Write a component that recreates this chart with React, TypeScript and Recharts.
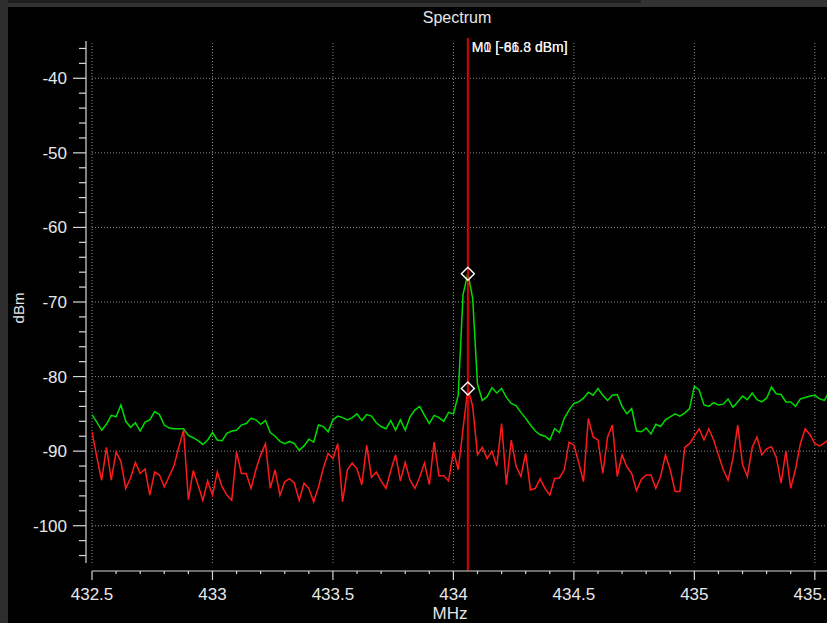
import React from 'react';
import {
  LineChart,
  Line,
  XAxis,
  YAxis,
  ReferenceLine,
  ReferenceDot,
} from 'recharts';

// spectrum bins: 432.5 MHz upward, 20 kHz per bin
const startMHz = 432.5;
const stepMHz = 0.02;

// max-hold trace (green), dBm
const maxHold = [
  -85.1, -86.1, -87.2, -86.4, -85.2, -85.4, -83.8, -86.0, -86.8, -86.2,
  -87.3, -86.1, -85.8, -84.7, -85.1, -86.5, -86.9, -87.0, -87.0, -87.0,
  -87.9, -88.2, -88.6, -89.1, -88.5, -87.5, -88.5, -88.6, -87.6, -87.3,
  -87.2, -86.5, -86.3, -85.6, -85.8, -86.4, -85.9, -87.5, -88.0, -88.7,
  -89.0, -88.7, -89.0, -89.9, -89.3, -88.4, -88.8, -86.5, -86.7, -87.4,
  -85.8, -85.3, -85.5, -85.8, -85.5, -85.0, -85.9, -85.1, -85.3, -86.2,
  -86.7, -87.0, -85.9, -87.2, -85.8, -87.2, -85.4, -84.5, -84.0, -85.2,
  -86.3, -85.2, -85.5, -86.0, -84.8, -85.0, -82.5, -69.0, -66.2, -69.5,
  -81.0, -83.2, -82.7, -81.5, -82.2, -81.6, -82.8, -83.6, -83.9, -84.8,
  -85.6, -86.5, -87.3, -87.8, -88.0, -88.5, -87.0, -87.5, -85.6, -84.5,
  -83.6, -83.4, -82.9, -82.1, -82.5, -81.6, -82.5, -83.2, -82.5, -82.4,
  -84.0, -85.0, -84.3, -87.3, -87.4, -86.9, -87.7, -86.4, -86.7, -85.8,
  -85.4, -85.0, -85.3, -84.9, -84.3, -81.3, -81.8, -83.8, -84.0, -83.5,
  -83.8, -83.7, -83.0, -84.1, -83.4, -82.6, -83.1, -82.2, -83.1, -83.4,
  -82.9, -81.4, -82.3, -82.4, -83.4, -83.4, -84.0, -83.0, -82.8, -82.6,
  -82.5, -83.0, -83.2, -82.0,
];

// live trace (red), dBm
const live = [
  -87.4, -90.8, -93.9, -89.5, -93.9, -90.1, -91.4, -95.0, -93.6, -91.5,
  -93.0, -92.4, -95.9, -92.8, -93.2, -94.8, -93.4, -92.0, -89.5, -87.2,
  -96.5, -92.6, -94.5, -96.6, -94.0, -95.9, -92.8, -94.8, -95.9, -96.6,
  -90.1, -93.0, -93.0, -95.0, -92.5, -90.5, -89.0, -95.0, -92.5, -95.9,
  -94.1, -93.7, -94.3, -96.6, -94.3, -95.0, -96.8, -94.8, -92.3, -90.3,
  -91.0, -89.0, -96.8, -92.5, -91.6, -92.4, -94.5, -89.2, -93.5, -92.8,
  -94.0, -95.0, -92.6, -90.5, -94.0, -91.5, -93.9, -95.0, -93.5, -91.6,
  -94.5, -88.8, -93.3, -93.3, -94.0, -90.0, -92.5, -87.0, -81.6, -84.0,
  -90.5, -89.5, -91.0, -90.0, -92.0, -86.3, -94.5, -88.5, -92.0, -93.4,
  -90.3, -95.2, -95.0, -93.7, -95.0, -95.9, -93.7, -93.6, -92.5, -88.8,
  -89.2, -91.5, -94.1, -85.6, -88.1, -88.5, -93.0, -88.1, -86.5, -93.4,
  -90.5, -92.1, -93.0, -95.3, -93.8, -93.2, -93.2, -95.0, -93.4, -90.5,
  -92.5, -95.4, -95.4, -89.5, -89.0, -88.0, -87.0, -88.5, -87.0, -88.5,
  -90.5, -92.5, -93.9, -91.0, -86.5, -91.8, -93.4, -89.5, -88.1, -90.5,
  -89.7, -89.4, -90.8, -94.3, -90.0, -95.0, -92.4, -89.0, -87.0, -87.8,
  -89.0, -89.3, -88.9, -88.4,
];

const markerMHz = 434.06;
const markerLevels = [-66.2, -81.6];
const markerTexts = ['M0 [-66.3 dBm]', 'M1 [-81.8 dBm]'];

const xMajorTicks = [432.5, 433, 433.5, 434, 434.5, 435, 435.5];
const yMajorTicks = [-100, -90, -80, -70, -60, -50, -40];

const xDomain = [432.5, 435.7];
const yDomain = [-105, -35];

const data = maxHold.map((v, i) => ({
  f: +(startMHz + i * stepMHz).toFixed(3),
  maxHold: v,
  live: live[i],
}));

// minor ticks every 0.1 MHz / 2 dB
const xTicks: number[] = [];
for (let t = 4325; t <= 4357; t += 1) xTicks.push(t / 10);
const yTicks: number[] = [];
for (let t = -104; t <= -36; t += 2) yTicks.push(t);

const FONT = '"Liberation Sans", Arial, sans-serif';
const AXIS = '#d8d8d8';
const GRID = '#8c8c8c';

const XTick = ({ x, y, payload }: any) => {
  const v = payload.value;
  const major = xMajorTicks.some((m) => Math.abs(m - v) < 1e-6);
  return (
    <g>
      <line x1={x} x2={x} y1={y + 8} y2={y + 8 + (major ? 9 : 3)} stroke={AXIS} strokeWidth={1.2} />
      {major && (
        <text x={x} y={y + 37} textAnchor="middle" fill="#e8e8e8" fontSize={17} fontFamily={FONT}>
          {v}
        </text>
      )}
    </g>
  );
};

const YTick = ({ x, y, payload }: any) => {
  const v = payload.value;
  const major = v % 10 === 0;
  return (
    <g>
      <line x1={x - 6 - (major ? 13 : 7)} x2={x - 6} y1={y} y2={y} stroke={AXIS} strokeWidth={1.2} />
      {major && (
        <text x={x - 25} y={y + 6} textAnchor="end" fill="#e8e8e8" fontSize={17} fontFamily={FONT}>
          {v}
        </text>
      )}
    </g>
  );
};

const Diamond = ({ cx, cy }: any) => (
  <polygon
    points={`${cx},${cy - 6.5} ${cx + 6.5},${cy} ${cx},${cy + 6.5} ${cx - 6.5},${cy}`}
    fill="none"
    stroke="#ffffff"
    strokeWidth={1.4}
  />
);

const MarkerLabel = ({ viewBox }: any) => {
  const x = viewBox.x + 4;
  const y = viewBox.y + 14;
  return (
    <g>
      {markerTexts.map((t) => (
        <text key={t} x={x} y={y} fill="#f0f0f0" fontSize={14} fontFamily={FONT}>
          {t}
        </text>
      ))}
    </g>
  );
};

export default function App() {
  return (
    <div
      style={{
        position: 'fixed',
        left: 0,
        top: 0,
        width: 827,
        height: 623,
        overflow: 'hidden',
        background: '#000',
        fontFamily: FONT,
      }}
    >
      <div style={{ position: 'absolute', left: 0, top: 0, width: 827, height: 7, background: '#333' }} />
      <div style={{ position: 'absolute', left: 0, top: 0, width: 641, height: 3, background: '#1e1e1e' }} />
      <div style={{ position: 'absolute', left: 0, top: 0, width: 8, height: 623, background: '#2d2d2d' }} />

      <div
        style={{
          position: 'absolute',
          left: 0,
          top: 0,
        }}
      >
        <LineChart
          width={880}
          height={623}
          data={data}
          margin={{ top: 41, right: 17, bottom: 8, left: 8 }}
        >
          <XAxis
            dataKey="f"
            type="number"
            domain={xDomain}
            ticks={xTicks}
            interval={0}
            allowDataOverflow
            height={52}
            tickSize={0}
            tickMargin={0}
            tickLine={false}
            axisLine={{ stroke: AXIS, strokeWidth: 1.2, transform: 'translate(0,8)' } as any}
            tick={<XTick />}
          />
          <YAxis
            type="number"
            domain={yDomain}
            ticks={yTicks}
            interval={0}
            allowDataOverflow
            width={84}
            tickSize={0}
            tickMargin={0}
            tickLine={false}
            axisLine={{ stroke: AXIS, strokeWidth: 1.2, transform: 'translate(-6,0)' } as any}
            tick={<YTick />}
          />
          {yMajorTicks.map((v) => (
            <ReferenceLine key={`h${v}`} y={v} stroke={GRID} strokeDasharray="1 2" />
          ))}
          {xMajorTicks.map((v) => (
            <ReferenceLine key={`v${v}`} x={v} stroke={GRID} strokeDasharray="1 2" />
          ))}
          <Line
            dataKey="maxHold"
            stroke="#00dc00"
            strokeWidth={1.5}
            dot={false}
            isAnimationActive={false}
          />
          <Line
            dataKey="live"
            stroke="#ff1a1a"
            strokeWidth={1.5}
            dot={false}
            isAnimationActive={false}
          />
          <ReferenceLine
            segment={[
              { x: markerMHz, y: -34.6 },
              { x: markerMHz, y: -106 },
            ]}
            ifOverflow="visible"
            stroke="#e00000"
            strokeWidth={2}
            label={<MarkerLabel />}
          />
          {markerLevels.map((v) => (
            <ReferenceDot key={`m${v}`} x={markerMHz} y={v} r={6} shape={<Diamond />} />
          ))}
        </LineChart>
      </div>

      <div
        style={{
          position: 'absolute',
          left: 457,
          top: 9,
          transform: 'translateX(-50%)',
          color: '#e6e6e6',
          fontSize: 16,
          whiteSpace: 'nowrap',
        }}
      >
        Spectrum
      </div>
      <div
        style={{
          position: 'absolute',
          left: 450,
          top: 604,
          transform: 'translateX(-50%)',
          color: '#e6e6e6',
          fontSize: 17,
          whiteSpace: 'nowrap',
        }}
      >
        MHz
      </div>
      <div
        style={{
          position: 'absolute',
          left: 18,
          top: 308,
          transform: 'translate(-50%, -50%) rotate(-90deg)',
          color: '#e6e6e6',
          fontSize: 15,
          whiteSpace: 'nowrap',
        }}
      >
        dBm
      </div>
    </div>
  );
}
